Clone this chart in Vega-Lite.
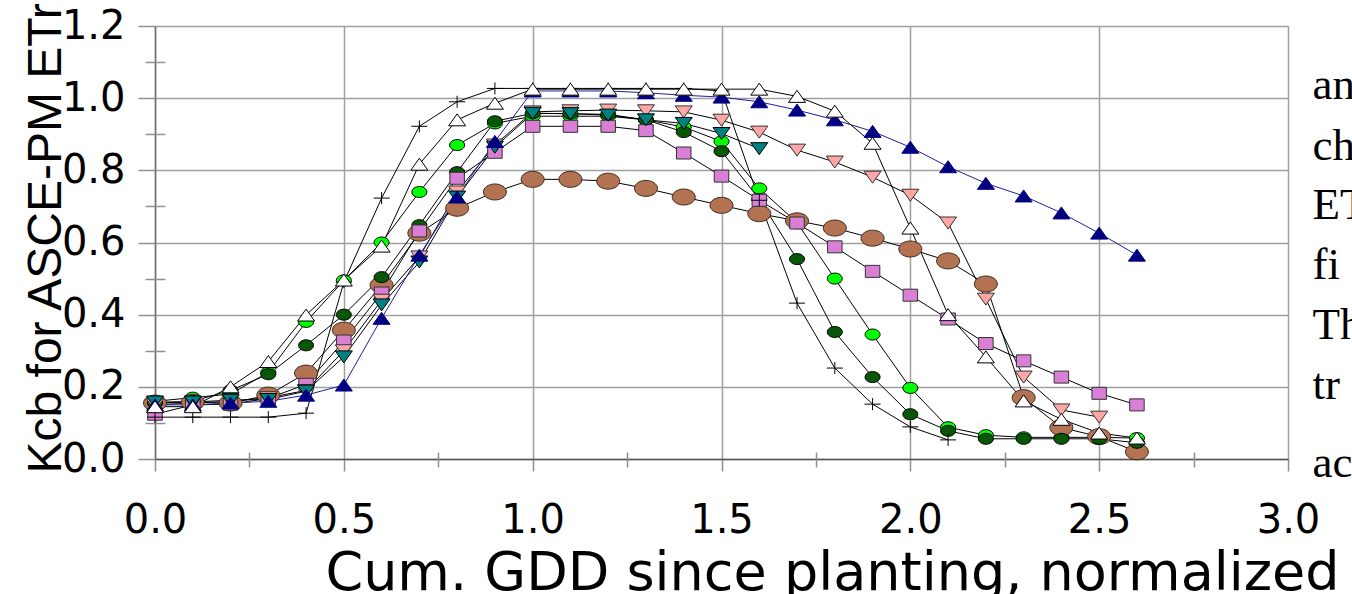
{
  "$schema": "https://vega.github.io/schema/vega-lite/v6.json",
  "width": 1133,
  "height": 433,
  "autosize": "none",
  "padding": {"left": 155, "top": 26, "right": 64, "bottom": 135},
  "background": "white",
  "config": {"view": {"stroke": null}},
  "datasets": {
    "pts": [
      {"s":"L","x":0.0,"y":0.16},{"s":"L","x":0.1,"y":0.17},{"s":"L","x":0.2,"y":0.18},{"s":"L","x":0.3,"y":0.24},{"s":"L","x":0.4,"y":0.38},{"s":"L","x":0.5,"y":0.495},{"s":"L","x":0.6,"y":0.6},{"s":"L","x":0.7,"y":0.74},{"s":"L","x":0.8,"y":0.87},{"s":"L","x":0.9,"y":0.93},{"s":"L","x":1.0,"y":0.95},{"s":"L","x":1.1,"y":0.95},{"s":"L","x":1.2,"y":0.95},{"s":"L","x":1.3,"y":0.94},{"s":"L","x":1.4,"y":0.92},{"s":"L","x":1.5,"y":0.88},{"s":"L","x":1.6,"y":0.75},{"s":"L","x":1.7,"y":0.655},{"s":"L","x":1.8,"y":0.5},{"s":"L","x":1.9,"y":0.345},{"s":"L","x":2.0,"y":0.197},{"s":"L","x":2.1,"y":0.088},{"s":"L","x":2.2,"y":0.066},{"s":"L","x":2.3,"y":0.06},{"s":"L","x":2.4,"y":0.06},{"s":"L","x":2.5,"y":0.06},{"s":"L","x":2.6,"y":0.058},
      {"s":"B","x":0.0,"y":0.155},{"s":"B","x":0.1,"y":0.157},{"s":"B","x":0.2,"y":0.155},{"s":"B","x":0.3,"y":0.177},{"s":"B","x":0.4,"y":0.238},{"s":"B","x":0.5,"y":0.357},{"s":"B","x":0.6,"y":0.482},{"s":"B","x":0.7,"y":0.626},{"s":"B","x":0.8,"y":0.695},{"s":"B","x":0.9,"y":0.74},{"s":"B","x":1.0,"y":0.775},{"s":"B","x":1.1,"y":0.775},{"s":"B","x":1.2,"y":0.77},{"s":"B","x":1.3,"y":0.75},{"s":"B","x":1.4,"y":0.726},{"s":"B","x":1.5,"y":0.703},{"s":"B","x":1.6,"y":0.68},{"s":"B","x":1.7,"y":0.66},{"s":"B","x":1.8,"y":0.64},{"s":"B","x":1.9,"y":0.612},{"s":"B","x":2.0,"y":0.582},{"s":"B","x":2.1,"y":0.549},{"s":"B","x":2.2,"y":0.485},{"s":"B","x":2.3,"y":0.17},{"s":"B","x":2.4,"y":0.087},{"s":"B","x":2.5,"y":0.062},{"s":"B","x":2.6,"y":0.02},
      {"s":"D","x":0.0,"y":0.155},{"s":"D","x":0.1,"y":0.16},{"s":"D","x":0.2,"y":0.19},{"s":"D","x":0.3,"y":0.235},{"s":"D","x":0.4,"y":0.315},{"s":"D","x":0.5,"y":0.4},{"s":"D","x":0.6,"y":0.504},{"s":"D","x":0.7,"y":0.648},{"s":"D","x":0.8,"y":0.795},{"s":"D","x":0.9,"y":0.936},{"s":"D","x":1.0,"y":0.958},{"s":"D","x":1.1,"y":0.957},{"s":"D","x":1.2,"y":0.955},{"s":"D","x":1.3,"y":0.94},{"s":"D","x":1.4,"y":0.906},{"s":"D","x":1.5,"y":0.853},{"s":"D","x":1.6,"y":0.72},{"s":"D","x":1.7,"y":0.554},{"s":"D","x":1.8,"y":0.352},{"s":"D","x":1.9,"y":0.227},{"s":"D","x":2.0,"y":0.124},{"s":"D","x":2.1,"y":0.078},{"s":"D","x":2.2,"y":0.056},{"s":"D","x":2.3,"y":0.056},{"s":"D","x":2.4,"y":0.056},{"s":"D","x":2.5,"y":0.056},{"s":"D","x":2.6,"y":0.045},
      {"s":"S","x":0.0,"y":0.124},{"s":"S","x":0.1,"y":0.15},{"s":"S","x":0.2,"y":0.152},{"s":"S","x":0.3,"y":0.168},{"s":"S","x":0.4,"y":0.207},{"s":"S","x":0.5,"y":0.327},{"s":"S","x":0.6,"y":0.46},{"s":"S","x":0.7,"y":0.632},{"s":"S","x":0.8,"y":0.778},{"s":"S","x":0.9,"y":0.85},{"s":"S","x":1.0,"y":0.922},{"s":"S","x":1.1,"y":0.922},{"s":"S","x":1.2,"y":0.922},{"s":"S","x":1.3,"y":0.91},{"s":"S","x":1.4,"y":0.848},{"s":"S","x":1.5,"y":0.784},{"s":"S","x":1.6,"y":0.717},{"s":"S","x":1.7,"y":0.654},{"s":"S","x":1.8,"y":0.588},{"s":"S","x":1.9,"y":0.52},{"s":"S","x":2.0,"y":0.454},{"s":"S","x":2.1,"y":0.388},{"s":"S","x":2.2,"y":0.32},{"s":"S","x":2.3,"y":0.272},{"s":"S","x":2.4,"y":0.227},{"s":"S","x":2.5,"y":0.182},{"s":"S","x":2.6,"y":0.15},
      {"s":"P","x":0.0,"y":0.15},{"s":"P","x":0.1,"y":0.155},{"s":"P","x":0.2,"y":0.16},{"s":"P","x":0.3,"y":0.17},{"s":"P","x":0.4,"y":0.19},{"s":"P","x":0.5,"y":0.3},{"s":"P","x":0.6,"y":0.44},{"s":"P","x":0.7,"y":0.56},{"s":"P","x":0.8,"y":0.74},{"s":"P","x":0.9,"y":0.87},{"s":"P","x":1.0,"y":0.962},{"s":"P","x":1.1,"y":0.965},{"s":"P","x":1.2,"y":0.967},{"s":"P","x":1.3,"y":0.965},{"s":"P","x":1.4,"y":0.962},{"s":"P","x":1.5,"y":0.939},{"s":"P","x":1.6,"y":0.906},{"s":"P","x":1.7,"y":0.856},{"s":"P","x":1.8,"y":0.823},{"s":"P","x":1.9,"y":0.781},{"s":"P","x":2.0,"y":0.731},{"s":"P","x":2.1,"y":0.654},{"s":"P","x":2.2,"y":0.443},{"s":"P","x":2.3,"y":0.227},{"s":"P","x":2.4,"y":0.136},{"s":"P","x":2.5,"y":0.116},
      {"s":"T","x":0.0,"y":0.158},{"s":"T","x":0.1,"y":0.158},{"s":"T","x":0.2,"y":0.163},{"s":"T","x":0.3,"y":0.165},{"s":"T","x":0.4,"y":0.188},{"s":"T","x":0.5,"y":0.283},{"s":"T","x":0.6,"y":0.427},{"s":"T","x":0.7,"y":0.546},{"s":"T","x":0.8,"y":0.726},{"s":"T","x":0.9,"y":0.864},{"s":"T","x":1.0,"y":0.958},{"s":"T","x":1.1,"y":0.957},{"s":"T","x":1.2,"y":0.953},{"s":"T","x":1.3,"y":0.94},{"s":"T","x":1.4,"y":0.93},{"s":"T","x":1.5,"y":0.902},{"s":"T","x":1.6,"y":0.86},
      {"s":"N","x":0.0,"y":0.15},{"s":"N","x":0.1,"y":0.15},{"s":"N","x":0.2,"y":0.155},{"s":"N","x":0.3,"y":0.16},{"s":"N","x":0.4,"y":0.177},{"s":"N","x":0.5,"y":0.205},{"s":"N","x":0.6,"y":0.39},{"s":"N","x":0.7,"y":0.565},{"s":"N","x":0.8,"y":0.726},{"s":"N","x":0.9,"y":0.88},{"s":"N","x":1.0,"y":1.02},{"s":"N","x":1.1,"y":1.02},{"s":"N","x":1.2,"y":1.02},{"s":"N","x":1.3,"y":1.015},{"s":"N","x":1.4,"y":1.008},{"s":"N","x":1.5,"y":1.003},{"s":"N","x":1.6,"y":0.99},{"s":"N","x":1.7,"y":0.967},{"s":"N","x":1.8,"y":0.94},{"s":"N","x":1.9,"y":0.908},{"s":"N","x":2.0,"y":0.864},{"s":"N","x":2.1,"y":0.81},{"s":"N","x":2.2,"y":0.764},{"s":"N","x":2.3,"y":0.729},{"s":"N","x":2.4,"y":0.682},{"s":"N","x":2.5,"y":0.626},{"s":"N","x":2.6,"y":0.565},
      {"s":"C","x":0.0,"y":0.116},{"s":"C","x":0.1,"y":0.116},{"s":"C","x":0.2,"y":0.116},{"s":"C","x":0.3,"y":0.116},{"s":"C","x":0.4,"y":0.127},{"s":"C","x":0.5,"y":0.49},{"s":"C","x":0.6,"y":0.723},{"s":"C","x":0.7,"y":0.922},{"s":"C","x":0.8,"y":0.99},{"s":"C","x":0.9,"y":1.027},{"s":"C","x":1.0,"y":1.027},{"s":"C","x":1.1,"y":1.027},{"s":"C","x":1.2,"y":1.027},{"s":"C","x":1.3,"y":1.027},{"s":"C","x":1.4,"y":1.027},{"s":"C","x":1.5,"y":1.02},{"s":"C","x":1.6,"y":0.717},{"s":"C","x":1.7,"y":0.432},{"s":"C","x":1.8,"y":0.252},{"s":"C","x":1.9,"y":0.152},{"s":"C","x":2.0,"y":0.089},{"s":"C","x":2.1,"y":0.053},
      {"s":"W","x":0.0,"y":0.145},{"s":"W","x":0.1,"y":0.145},{"s":"W","x":0.2,"y":0.2},{"s":"W","x":0.3,"y":0.27},{"s":"W","x":0.4,"y":0.399},{"s":"W","x":0.5,"y":0.496},{"s":"W","x":0.6,"y":0.59},{"s":"W","x":0.7,"y":0.817},{"s":"W","x":0.8,"y":0.94},{"s":"W","x":0.9,"y":0.986},{"s":"W","x":1.0,"y":1.025},{"s":"W","x":1.1,"y":1.025},{"s":"W","x":1.2,"y":1.025},{"s":"W","x":1.3,"y":1.025},{"s":"W","x":1.4,"y":1.025},{"s":"W","x":1.5,"y":1.025},{"s":"W","x":1.6,"y":1.025},{"s":"W","x":1.7,"y":1.005},{"s":"W","x":1.8,"y":0.964},{"s":"W","x":1.9,"y":0.875},{"s":"W","x":2.0,"y":0.64},{"s":"W","x":2.1,"y":0.4},{"s":"W","x":2.2,"y":0.283},{"s":"W","x":2.3,"y":0.161},{"s":"W","x":2.4,"y":0.11},{"s":"W","x":2.5,"y":0.072},{"s":"W","x":2.6,"y":0.058}
    ],
    "txt": [
      {"t":"an","x":3.065,"y":0.997},
      {"t":"ch","x":3.065,"y":0.83},
      {"t":"ET","x":3.065,"y":0.665},
      {"t":"fi","x":3.065,"y":0.499},
      {"t":"Th","x":3.065,"y":0.332},
      {"t":"tr","x":3.065,"y":0.166},
      {"t":"ac","x":3.065,"y":-0.05}
    ]
  },
  "layer": [
    {
      "data": {"name": "pts"},
      "mark": {"type": "line", "strokeWidth": 1},
      "encoding": {
        "x": {
          "field": "x", "type": "quantitative",
          "scale": {"domain": [0, 3], "nice": false, "zero": false},
          "axis": {
            "orient": "bottom",
            "values": [0, 0.5, 1, 1.5, 2, 2.5, 3],
            "format": ".1f",
            "grid": true, "gridColor": "#a0a0a0", "gridWidth": 1.5,
            "domainColor": "#555555", "domainWidth": 1.5,
            "tickColor": "#909090", "tickWidth": 1.5, "tickSize": 12,
            "labelFont": "DejaVu Sans", "labelFontSize": 40, "labelColor": "black",
            "labelBaseline": "alphabetic", "labelPadding": 61,
            "labelFlush": false, "labelOverlap": false,
            "title": "Cum. GDD since planting, normalized",
            "titleFont": "DejaVu Sans", "titleFontSize": 54, "titleFontWeight": "normal", "titleColor": "black",
            "titleX": 677, "titleY": 130, "titleAlign": "center", "titleBaseline": "alphabetic"
          }
        },
        "y": {
          "field": "y", "type": "quantitative",
          "scale": {"domain": [0, 1.2], "nice": false, "zero": false},
          "axis": {
            "orient": "left",
            "values": [0, 0.2, 0.4, 0.6, 0.8, 1.0, 1.2],
            "format": ".1f",
            "grid": true, "gridColor": "#a0a0a0", "gridWidth": 1.5,
            "domainColor": "#707070", "domainWidth": 1.5,
            "tickColor": "#909090", "tickWidth": 1.5, "tickSize": 17,
            "labelFont": "DejaVu Sans", "labelFontSize": 40, "labelColor": "black",
            "labelBaseline": "middle", "labelPadding": 13,
            "labelFlush": false, "labelOverlap": false,
            "title": "Kcb for ASCE-PM ETr",
            "titleFont": "Liberation Sans", "titleFontSize": 48, "titleFontWeight": "normal", "titleColor": "black",
            "titleAngle": 270, "titleX": -95, "titleY": 447, "titleAlign": "left", "titleBaseline": "alphabetic"
          }
        },
        "color": {
          "field": "s", "type": "nominal",
          "scale": {"domain": ["L","B","D","S","P","T","N","C","W"], "range": ["#000000","#000000","#000000","#000000","#000000","#000000","#1f1f9f","#000000","#000000"]},
          "legend": null
        }
      }
    },
    {
      "data": {"name": "pts"},
      "mark": {"type": "point", "filled": true, "opacity": 1, "size": 4, "strokeWidth": 1},
      "encoding": {
        "x": {
          "field": "x", "type": "quantitative",
          "scale": {"domain": [0, 3], "nice": false, "zero": false},
          "axis": {"orient": "bottom", "values": [0.25, 0.75, 1.25, 1.75, 2.25, 2.75], "labels": false, "grid": false, "domain": false, "tickSize": 15, "offset": -7, "tickColor": "#909090", "tickWidth": 1.5, "title": null}
        },
        "y": {
          "field": "y", "type": "quantitative",
          "scale": {"domain": [0, 1.2], "nice": false, "zero": false},
          "axis": {"orient": "left", "values": [0.1, 0.3, 0.5, 0.7, 0.9, 1.1], "labels": false, "grid": false, "domain": false, "tickSize": 20, "offset": -10, "tickColor": "#909090", "tickWidth": 1.5, "title": null}
        },
        "shape": {
          "field": "s", "type": "nominal",
          "scale": {
            "domain": ["L","B","D","S","P","T","N","C","W"],
            "range": [
              "M-7.5,0A7.5,5.5,0,1,1,7.5,0A7.5,5.5,0,1,1,-7.5,0Z",
              "M-11.5,0A11.5,8,0,1,1,11.5,0A11.5,8,0,1,1,-11.5,0Z",
              "M-7.5,0A7.5,5.5,0,1,1,7.5,0A7.5,5.5,0,1,1,-7.5,0Z",
              "M-7.25,-6H7.25V6H-7.25Z",
              "M0,6L8.5,-6L-8.5,-6Z",
              "M0,6L8.5,-6L-8.5,-6Z",
              "M0,-6L8.5,6L-8.5,6Z",
              "M-8,0H8M0,-6V6",
              "M0,-6L8.5,6L-8.5,6Z"
            ]
          },
          "legend": null
        },
        "fill": {
          "field": "s", "type": "nominal",
          "scale": {"domain": ["L","B","D","S","P","T","N","C","W"], "range": ["#00ff00","#b37352","#075707","#d980d6","#ffa6a6","#008080","#000080","#000000","#ffffff"]},
          "legend": null
        },
        "stroke": {
          "field": "s", "type": "nominal",
          "scale": {"domain": ["L","B","D","S","P","T","N","C","W"], "range": ["#000000","#3a2a20","#000000","#333333","#333333","#000000","#000080","#000000","#000000"]},
          "legend": null
        }
      }
    },
    {
      "data": {"name": "txt"},
      "mark": {"type": "text", "font": "Liberation Serif", "fontSize": 45, "align": "left", "baseline": "alphabetic", "color": "black"},
      "encoding": {
        "x": {"field": "x", "type": "quantitative", "scale": {"domain": [0, 3], "nice": false, "zero": false}, "axis": null},
        "y": {"field": "y", "type": "quantitative", "scale": {"domain": [0, 1.2], "nice": false, "zero": false}, "axis": null},
        "text": {"field": "t", "type": "nominal"}
      }
    }
  ],
  "resolve": {"axis": {"x": "independent", "y": "independent"}}
}
